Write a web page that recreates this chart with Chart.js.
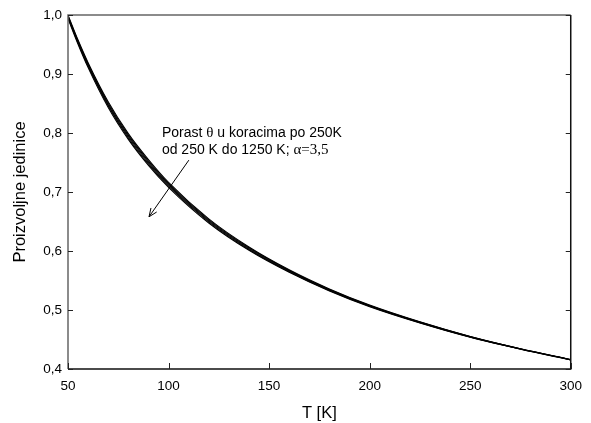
<!DOCTYPE html>
<html>
<head>
<meta charset="utf-8">
<script src="https://cdn.jsdelivr.net/npm/chart.js"></script>
<style>
  html, body { margin: 0; padding: 0; background: #fff; }
  #wrap { width: 591px; height: 423px; }
</style>
</head>
<body>
<div id="wrap"><canvas id="chart" width="591" height="423"></canvas></div>
<script>
// Temperature points (K)
const temps = [50, 55, 60, 70, 80, 90, 100, 120, 140, 160, 180, 200, 225, 250, 275, 300];

// One curve per theta, 250 K .. 1250 K in steps of 250 K
const thetaLabels = ['θ=250 K', 'θ=500 K', 'θ=750 K', 'θ=1000 K', 'θ=1250 K'];
const theta250  = [1.000, 0.9575, 0.9192, 0.8529, 0.7989, 0.7549, 0.7162, 0.6545, 0.6068, 0.5681, 0.5357, 0.5084, 0.480, 0.4552, 0.4344, 0.4160];
const theta500  = [0.9985, 0.9558, 0.9171, 0.8505, 0.7965, 0.7525, 0.7141, 0.6528, 0.6054, 0.5671, 0.5348, 0.5077, 0.4795, 0.4549, 0.4342, 0.4159];
const theta750  = [0.997, 0.954, 0.915, 0.848, 0.794, 0.750, 0.712, 0.651, 0.604, 0.566, 0.534, 0.507, 0.479, 0.4545, 0.434, 0.4157];
const theta1000 = [0.9955, 0.9523, 0.9129, 0.8456, 0.7916, 0.7476, 0.7099, 0.6493, 0.6026, 0.5650, 0.5332, 0.5063, 0.4785, 0.4542, 0.4338, 0.4155];
const theta1250 = [0.994, 0.9505, 0.9108, 0.8431, 0.7891, 0.7451, 0.7078, 0.6475, 0.6012, 0.5639, 0.5323, 0.5056, 0.478, 0.4538, 0.4336, 0.4154];
const series = [theta250, theta500, theta750, theta1000, theta1250];

const xTicks = [50, 100, 150, 200, 250, 300];
const yTicks = [0.4, 0.5, 0.6, 0.7, 0.8, 0.9, 1.0];

const SANS = '"Liberation Sans", Arial, sans-serif';
const SERIF = '"Liberation Serif", "Times New Roman", serif';

// frame + inward ticks, SigmaPlot style
const framePlugin = {
    id: 'frame',
    afterDatasetsDraw(chart) {
        const { ctx, chartArea: a, scales: { x, y } } = chart;
        ctx.save();
        ctx.lineWidth = 1.5;
        ctx.strokeStyle = '#666';
        ctx.beginPath();
        ctx.moveTo(a.left, a.bottom);
        ctx.lineTo(a.left, a.top);
        ctx.lineTo(a.right, a.top);
        ctx.stroke();
        ctx.strokeStyle = '#111';
        ctx.beginPath();
        ctx.moveTo(a.right, a.top);
        ctx.lineTo(a.right, a.bottom);
        ctx.lineTo(a.left, a.bottom);
        ctx.stroke();
        ctx.lineWidth = 1;
        ctx.strokeStyle = '#222';
        ctx.beginPath();
        xTicks.forEach(v => {
            const px = Math.round(x.getPixelForValue(v)) + 0.5;
            ctx.moveTo(px, a.bottom);
            ctx.lineTo(px, a.bottom - 6);
        });
        yTicks.forEach(v => {
            const py = Math.round(y.getPixelForValue(v)) + 0.5;
            ctx.moveTo(a.left, py);
            ctx.lineTo(a.left + 5, py);
            ctx.moveTo(a.right, py);
            ctx.lineTo(a.right - 5, py);
        });
        ctx.stroke();
        ctx.restore();
    }
};

// annotation text and arrow
const notePlugin = {
    id: 'note',
    afterDatasetsDraw(chart) {
        const { ctx, scales: { x, y } } = chart;
        ctx.save();
        ctx.fillStyle = '#000';
        ctx.textBaseline = 'middle';
        const tx = x.getPixelForValue(96.7);
        const drawParts = (parts, py) => {
            let cx = tx;
            parts.forEach(([txt, font]) => {
                ctx.font = font;
                ctx.fillText(txt, cx, py);
                cx += ctx.measureText(txt).width;
            });
        };
        const sans = '14px ' + SANS;
        const serif = '15px ' + SERIF;
        drawParts([['Porast ', sans], ['θ', serif], [' u koracima po 250K', sans]], y.getPixelForValue(0.800));
        drawParts([['od 250 K do 1250 K; ', sans], ['α=3,5', serif]], y.getPixelForValue(0.771));

        const x1 = x.getPixelForValue(110.1), y1 = y.getPixelForValue(0.754);
        const x2 = x.getPixelForValue(90.3), y2 = y.getPixelForValue(0.658);
        const ang = Math.atan2(y2 - y1, x2 - x1);
        ctx.strokeStyle = '#000';
        ctx.lineWidth = 1;
        ctx.beginPath();
        ctx.moveTo(x1, y1);
        ctx.lineTo(x2, y2);
        ctx.moveTo(x2 - 9 * Math.cos(ang - 0.4), y2 - 9 * Math.sin(ang - 0.4));
        ctx.lineTo(x2, y2);
        ctx.lineTo(x2 - 9 * Math.cos(ang + 0.4), y2 - 9 * Math.sin(ang + 0.4));
        ctx.stroke();
        ctx.restore();
    }
};

const ctx = document.getElementById('chart').getContext('2d');
new Chart(ctx, {
    type: 'line',
    data: {
        datasets: series.map((vals, i) => ({
            label: thetaLabels[i],
            data: temps.map((t, j) => ({ x: t, y: vals[j] })),
            borderColor: '#000',
            borderWidth: 1.1,
            pointRadius: 0,
            fill: false,
            cubicInterpolationMode: 'monotone'
        }))
    },
    options: {
        responsive: false,
        animation: false,
        layout: { padding: { top: 15, right: 20, left: 0, bottom: 0 } },
        plugins: { legend: { display: false }, tooltip: { enabled: false } },
        scales: {
            x: {
                type: 'linear',
                min: 50, max: 300,
                afterFit: s => { s.height = 54; },
                afterBuildTicks: s => { s.ticks = xTicks.map(v => ({ value: v })); },
                grid: { display: false, drawTicks: false },
                border: { display: false },
                ticks: { color: '#000', padding: 9, maxRotation: 0, font: { family: SANS, size: 13.5 } },
                title: { display: true, text: 'T [K]', color: '#000', padding: { top: 0, bottom: 0 }, font: { family: SANS, size: 16.5 } }
            },
            y: {
                min: 0.4, max: 1.0,
                afterFit: s => { s.width = 68; },
                afterBuildTicks: s => { s.ticks = yTicks.map(v => ({ value: v })); },
                grid: { display: false, drawTicks: false },
                border: { display: false },
                ticks: {
                    color: '#000', padding: 6, font: { family: SANS, size: 13.5 },
                    callback: v => v.toFixed(1).replace('.', ',')
                },
                title: { display: true, text: 'Proizvoljne jedinice', color: '#000', padding: { top: 11, bottom: 0 }, font: { family: SANS, size: 16.5 } }
            }
        }
    },
    plugins: [framePlugin, notePlugin]
});
</script>
</body>
</html>
